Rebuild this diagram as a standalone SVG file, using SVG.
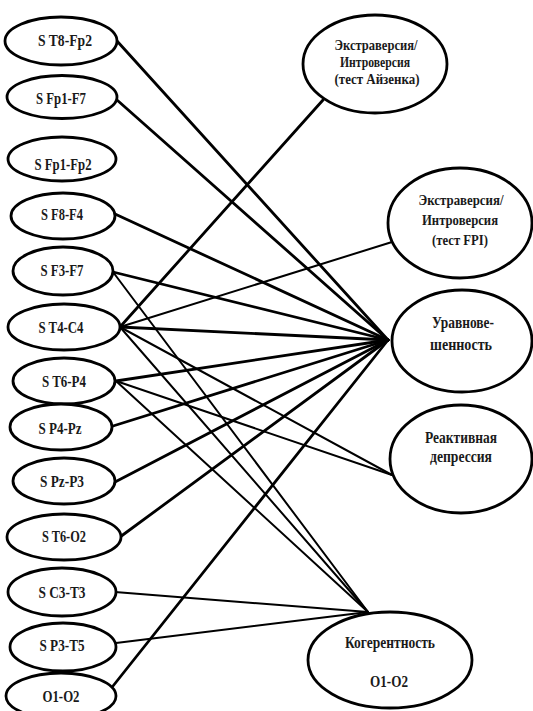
<svg xmlns="http://www.w3.org/2000/svg" width="533" height="711" viewBox="0 0 533 711">
  <style>
    .node ellipse { fill: #ffffff; stroke: #000000; stroke-width: 2.8; }
    .node text { font-family: "Liberation Serif", "Times New Roman", serif; font-weight: bold; fill: #1a1a1a; text-anchor: middle; }
    .lbl { font-size: 17px; }
    .rl { font-size: 14px; }
    .rm { font-size: 16.5px; }
    .edges line { stroke: #000000; stroke-linecap: round; }
    .thick { stroke-width: 2.8; }
    .thin { stroke-width: 2; }
  </style>
  <rect width="533" height="711" fill="#ffffff"/>

  <!-- connectors (drawn first, nodes sit on top) -->
  <g id="connectors" class="edges">
    <!-- to Уравновешенность -->
    <line class="thick" x1="117" y1="41" x2="388" y2="340"/>
    <line class="thick" x1="117" y1="100" x2="388" y2="340"/>
    <line class="thick" x1="115" y1="214" x2="388" y2="340"/>
    <line class="thick" x1="113" y1="272" x2="388" y2="340"/>
    <line class="thick" x1="120" y1="327" x2="388" y2="340"/>
    <line class="thick" x1="116" y1="381" x2="388" y2="340"/>
    <line class="thick" x1="113" y1="426" x2="388" y2="340"/>
    <line class="thick" x1="115" y1="482" x2="388" y2="340"/>
    <line class="thick" x1="120" y1="537" x2="388" y2="340"/>
    <line class="thick" x1="113" y1="686" x2="388" y2="340"/>
    <!-- to Экстраверсия (тест Айзенка) -->
    <line class="thick" x1="120" y1="327" x2="323" y2="100"/>
    <!-- to Экстраверсия (тест FPI) -->
    <line class="thin" x1="120" y1="327" x2="392" y2="242"/>
    <!-- to Реактивная депрессия -->
    <line class="thin" x1="120" y1="327" x2="392" y2="475"/>
    <line class="thin" x1="116" y1="381" x2="392" y2="475"/>
    <!-- to Когерентность -->
    <line class="thin" x1="113" y1="272" x2="368" y2="612"/>
    <line class="thin" x1="120" y1="327" x2="368" y2="612"/>
    <line class="thin" x1="116" y1="381" x2="368" y2="612"/>
    <line class="thin" x1="115" y1="592" x2="368" y2="612"/>
    <line class="thin" x1="116" y1="643" x2="368" y2="612"/>
  </g>

  <!-- left column -->
  <g id="n-t8-fp2" class="node"><ellipse cx="61" cy="41" rx="56" ry="24"/><text class="lbl" x="65" y="46" textLength="54" lengthAdjust="spacingAndGlyphs">S T8-Fp2</text></g>
  <g id="n-fp1-f7" class="node"><ellipse cx="62" cy="97" rx="55" ry="21.5"/><text class="lbl" x="61" y="104" textLength="50" lengthAdjust="spacingAndGlyphs">S Fp1-F7</text></g>
  <g id="n-fp1-fp2" class="node"><ellipse cx="62" cy="159" rx="54" ry="22"/><text class="lbl" x="63" y="170" textLength="57" lengthAdjust="spacingAndGlyphs">S Fp1-Fp2</text></g>
  <g id="n-f8-f4" class="node"><ellipse cx="63" cy="216" rx="52" ry="23"/><text class="lbl" x="62" y="220" textLength="42" lengthAdjust="spacingAndGlyphs">S F8-F4</text></g>
  <g id="n-f3-f7" class="node"><ellipse cx="63" cy="271" rx="50" ry="24"/><text class="lbl" x="62" y="276" textLength="43" lengthAdjust="spacingAndGlyphs">S F3-F7</text></g>
  <g id="n-t4-c4" class="node"><ellipse cx="64" cy="327" rx="56" ry="23"/><text class="lbl" x="61" y="333" textLength="45" lengthAdjust="spacingAndGlyphs">S T4-C4</text></g>
  <g id="n-t6-p4" class="node"><ellipse cx="64" cy="381" rx="51" ry="23"/><text class="lbl" x="64" y="387" textLength="44" lengthAdjust="spacingAndGlyphs">S T6-P4</text></g>
  <g id="n-p4-pz" class="node"><ellipse cx="61" cy="427" rx="51" ry="23"/><text class="lbl" x="60" y="434" textLength="43" lengthAdjust="spacingAndGlyphs">S P4-Pz</text></g>
  <g id="n-pz-p3" class="node"><ellipse cx="64" cy="481" rx="51" ry="23"/><text class="lbl" x="62" y="487" textLength="44" lengthAdjust="spacingAndGlyphs">S Pz-P3</text></g>
  <g id="n-t6-o2" class="node"><ellipse cx="64" cy="537" rx="57" ry="23"/><text class="lbl" x="64" y="542" textLength="44" lengthAdjust="spacingAndGlyphs">S T6-O2</text></g>
  <g id="n-c3-t3" class="node"><ellipse cx="62" cy="592" rx="54" ry="24"/><text class="lbl" x="62" y="598" textLength="47" lengthAdjust="spacingAndGlyphs">S C3-T3</text></g>
  <g id="n-p3-t5" class="node"><ellipse cx="63" cy="647" rx="53" ry="24"/><text class="lbl" x="62" y="651" textLength="45" lengthAdjust="spacingAndGlyphs">S P3-T5</text></g>
  <g id="n-o1-o2" class="node"><ellipse cx="61" cy="696" rx="55" ry="23"/><text class="lbl" x="61" y="702" textLength="37" lengthAdjust="spacingAndGlyphs">O1-O2</text></g>

  <!-- right column -->
  <g id="n-eysenck" class="node">
    <ellipse cx="375" cy="64" rx="72" ry="49"/>
    <text class="rl" x="376" y="50" textLength="83" lengthAdjust="spacingAndGlyphs">Экстраверсия/</text>
    <text class="rl" x="375" y="67" textLength="70" lengthAdjust="spacingAndGlyphs">Интроверсия</text>
    <text class="rl" x="377" y="84" textLength="85" lengthAdjust="spacingAndGlyphs">(тест Айзенка)</text>
  </g>
  <g id="n-fpi" class="node">
    <ellipse cx="460" cy="223" rx="72" ry="55"/>
    <text class="rl" x="461" y="205" textLength="85" lengthAdjust="spacingAndGlyphs">Экстраверсия/</text>
    <text class="rl" x="460" y="225" textLength="76" lengthAdjust="spacingAndGlyphs">Интроверсия</text>
    <text class="rl" x="460" y="245" textLength="56" lengthAdjust="spacingAndGlyphs">(тест FPI)</text>
  </g>
  <g id="n-balance" class="node">
    <ellipse cx="462" cy="341" rx="70" ry="51"/>
    <text class="rm" x="463" y="328" textLength="62" lengthAdjust="spacingAndGlyphs">Уравнове-</text>
    <text class="rm" x="461" y="350" textLength="62" lengthAdjust="spacingAndGlyphs">шенность</text>
  </g>
  <g id="n-depression" class="node">
    <ellipse cx="461" cy="459" rx="71" ry="54"/>
    <text class="rm" x="461" y="443" textLength="72" lengthAdjust="spacingAndGlyphs">Реактивная</text>
    <text class="rm" x="461" y="462" textLength="62" lengthAdjust="spacingAndGlyphs">депрессия</text>
  </g>
  <g id="n-coherence" class="node">
    <ellipse cx="390" cy="660" rx="82" ry="48"/>
    <text class="rm" x="390" y="648" textLength="90" lengthAdjust="spacingAndGlyphs">Когерентность</text>
    <text class="rm" x="389" y="687" textLength="38" lengthAdjust="spacingAndGlyphs">O1-O2</text>
  </g>
</svg>
